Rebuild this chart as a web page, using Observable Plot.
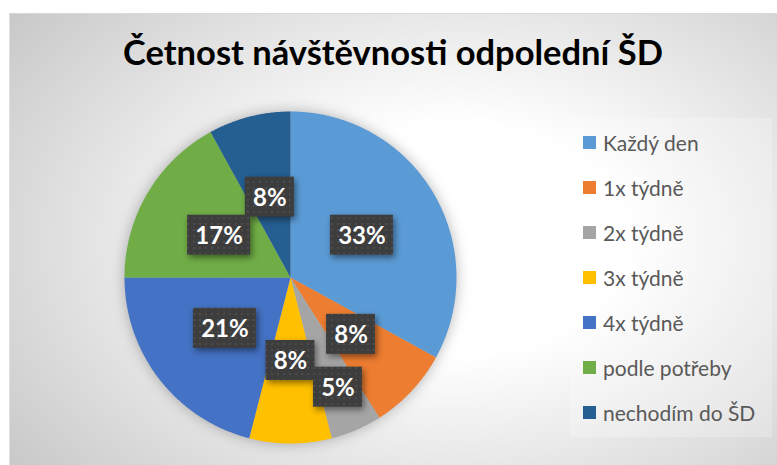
<!DOCTYPE html>
<html>
<head>
<meta charset="utf-8">
<script src="https://cdn.jsdelivr.net/npm/d3@7"></script>
<script src="https://cdn.jsdelivr.net/npm/@observablehq/plot@0.6"></script>
<style>
  html, body { margin: 0; padding: 0; background: #fff; }
  #wrap { position: relative; width: 777px; height: 465px; overflow: hidden; font-family: Lato, "Open Sans", sans-serif; }
  #bg { position: absolute; left: 9px; top: 13px; width: 768px; height: 452px;
        background: radial-gradient(ellipse 75% 85% at 58% 50%, #ffffff 0%, #ffffff 30%, #c6c6c6 100%);
        border-top: 1px solid #d9d9d9; border-left: 1px solid #e0e0e0; box-sizing: border-box; }
  #title { position: absolute; left: 9px; width: 768px; top: 31px; text-align: center;
           font-weight: 700; font-size: 34.5px; color: #000; line-height: 1.2; }
  #legend { position: absolute; left: 570px; top: 118px; width: 202px; height: 319px;
            background: rgba(255,255,255,0.22); }
  .item { position: absolute; left: 13px; height: 24px; display: flex; align-items: center;
          font-size: 21px; color: #595959; white-space: nowrap; }
  .sw { width: 13px; height: 13px; margin-right: 7px; flex: none; }
  #chart { position: absolute; left: 0; top: 0; }
</style>
</head>
<body>
<div id="wrap">
  <div id="bg"></div>
  <div id="title">Četnost návštěvnosti odpolední ŠD</div>
  <div id="chart"></div>
  <div id="legend"></div>
</div>
<script>
// ---- data ----
const categories = ["Každý den", "1x týdně", "2x týdně", "3x týdně", "4x týdně", "podle potřeby", "nechodím do ŠD"];
const percents = [33, 8, 5, 8, 21, 17, 8];
const colors = ["#5B9BD5", "#ED7D31", "#A5A5A5", "#FFC000", "#4472C4", "#70AD47", "#255E91"];

// ---- geometry (pie in unit coordinates, clockwise from top) ----
const total = d3.sum(percents);
const R_PX = 166;
const slices = [];
const labels = [];
let acc = 0;
categories.forEach((cat, i) => {
  const a0 = acc / total * 2 * Math.PI;
  acc += percents[i];
  const a1 = acc / total * 2 * Math.PI;
  slices.push({cat, x: 0, y: 0});
  const n = Math.max(2, Math.ceil((a1 - a0) / (Math.PI / 360)));
  for (let k = 0; k <= n; k++) {
    const a = a0 + (a1 - a0) * k / n;
    slices.push({cat, x: Math.sin(a), y: Math.cos(a)});
  }
  slices.push({cat, x: 0, y: 0});
  const am = (a0 + a1) / 2;
  const r = percents[i] <= 5 ? 0.72 : 0.5;
  const text = percents[i] + "%";
  const hw = (14 * text.length + 21) / 2 / R_PX;
  const hh = 20 / R_PX;
  const lx = r * Math.sin(am), ly = r * Math.cos(am);
  labels.push({cat, text, x: lx, y: ly, x1: lx - hw, x2: lx + hw, y1: ly - hh, y2: ly + hh});
});

const cx = 290, cy = 277;
const W = 777, H = 465;

const chart = Plot.plot({
  width: W, height: H,
  marginLeft: cx - R_PX, marginRight: W - (cx + R_PX),
  marginTop: cy - R_PX, marginBottom: H - (cy + R_PX),
  x: {domain: [-1, 1], axis: null},
  y: {domain: [-1, 1], axis: null},
  color: {type: "ordinal", domain: categories, range: colors},
  style: {background: "transparent", overflow: "visible", fontFamily: "Lato, 'Open Sans', sans-serif"},
  marks: [
    Plot.line(slices, {x: "x", y: "y", z: "cat", fill: "cat", stroke: "none", curve: "linear"}),
    Plot.rect(labels, {x1: "x1", x2: "x2", y1: "y1", y2: "y2", fill: "url(#dots)"}),
    Plot.text(labels, {x: "x", y: "y", text: "text", fill: "white", fontWeight: "bold", fontSize: 24, dy: 1})
  ]
});

// pattern + shadows
const svg = d3.select(chart);
const defs = svg.insert("defs", ":first-child");
const pat = defs.append("pattern").attr("id", "dots").attr("patternUnits", "userSpaceOnUse")
  .attr("width", 6).attr("height", 6);
pat.append("rect").attr("width", 6).attr("height", 6).attr("fill", "#3d3d3d");
pat.append("rect").attr("x", 1).attr("y", 1).attr("width", 2).attr("height", 2).attr("fill", "#4c4c4c");
svg.selectAll('g[aria-label="line"]').style("filter", "drop-shadow(0 0 7px rgba(0,0,0,0.28))");
svg.selectAll('g[aria-label="rect"]').style("filter", "drop-shadow(2px 3px 3px rgba(0,0,0,0.45))");
document.getElementById("chart").appendChild(chart);

// legend
const color = chart.scale("color");
const leg = document.getElementById("legend");
categories.forEach((cat, i) => {
  const it = document.createElement("div");
  it.className = "item";
  it.style.top = (12 + i * 45) + "px";
  const sw = document.createElement("span");
  sw.className = "sw";
  sw.style.background = color.apply(cat);
  const tx = document.createElement("span");
  tx.textContent = cat;
  it.appendChild(sw); it.appendChild(tx);
  leg.appendChild(it);
});
</script>
</body>
</html>
